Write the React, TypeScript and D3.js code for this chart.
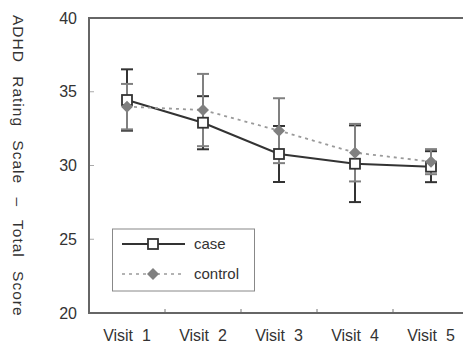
import React from "react";
import * as d3 from "d3";

const visits = ["Visit 1", "Visit 2", "Visit 3", "Visit 4", "Visit 5"];
const caseMean = [34.44, 32.9, 30.78, 30.12, 29.92];
const caseErr = [2.08, 1.8, 1.9, 2.6, 1.05];
const controlMean = [33.99, 33.76, 32.36, 30.87, 30.26];
const controlErr = [1.54, 2.45, 2.2, 1.95, 0.85];
const yTicks = [20, 25, 30, 35, 40];
const yTitle = "ADHD Rating Scale \u2013 Total Score";
const legendLabels = ["case", "control"];

const W = 463;
const H = 345;
const FONT = "'Liberation Sans', Arial, sans-serif";

export default function App() {
  const left = 89;
  const top = 18;
  const bottom = 313;
  const x = d3.scaleBand<string>().domain(visits).range([left, 469]).padding(0);
  const y = d3.scaleLinear().domain([20, 40]).range([bottom, top]);
  const cx = (v: string) => (x(v) as number) + x.bandwidth() / 2;

  const lineGen = d3
    .line<number>()
    .x((_, i) => cx(visits[i]))
    .y((d) => y(d));

  const cap = 6;
  const caseColor = "#333";
  const ctrlColor = "#808080";
  const ctrlLine = "#9a9a9a";
  const axisColor = "#666";

  const errBars = (means: number[], errs: number[], color: string) =>
    means.map((m, i) => {
      const px = cx(visits[i]);
      const y1 = y(m + errs[i]);
      const y2 = y(m - errs[i]);
      return (
        <g key={i} stroke={color} strokeWidth={2}>
          <line x1={px} x2={px} y1={y1} y2={y2} />
          <line x1={px - cap} x2={px + cap} y1={y1} y2={y1} />
          <line x1={px - cap} x2={px + cap} y1={y2} y2={y2} />
        </g>
      );
    });

  const diamond = (px: number, py: number, key?: any) => (
    <path
      key={key}
      d={`M${px},${py - 6}L${px + 6},${py}L${px},${py + 6}L${px - 6},${py}Z`}
      fill={ctrlColor}
      stroke="none"
    />
  );
  const square = (px: number, py: number, key?: any) => (
    <rect
      key={key}
      x={px - 5}
      y={py - 5}
      width={10}
      height={10}
      fill="#fff"
      stroke={caseColor}
      strokeWidth={1.8}
    />
  );

  const boundaries = visits.slice(1).map((v) => x(v) as number);

  return (
    <svg
      width={W}
      height={H}
      style={{ position: "absolute", left: 0, top: 0, background: "#fff" }}
      fontFamily={FONT}
    >
      <rect width={W} height={H} fill="#fff" />
      {/* y axis title */}
      <text
        transform={`translate(13,15) rotate(90)`}
        textAnchor="start"
        fontSize={15.5}
        fill="#333"
        letterSpacing={1}
        wordSpacing={8}
      >
        {yTitle}
      </text>
      {/* y tick labels */}
      {yTicks.map((t) => (
        <text
          key={t}
          x={77}
          y={y(t)}
          dy="0.35em"
          textAnchor="end"
          fontSize={16}
          fill="#333"
        >
          {t}
        </text>
      ))}
      {/* y ticks inward */}
      {yTicks.slice(1, -1).map((t) => (
        <line key={t} x1={left} x2={left + 5} y1={y(t)} y2={y(t)} stroke="#aaa" strokeWidth={1} />
      ))}
      {/* x ticks */}
      {boundaries.map((b, i) => (
        <line key={i} x1={b} x2={b} y1={bottom} y2={bottom - 4} stroke="#777" strokeWidth={1} />
      ))}
      {/* frame */}
      <line x1={left} x2={W} y1={top} y2={top} stroke={axisColor} strokeWidth={2} />
      <line x1={left} x2={W} y1={bottom} y2={bottom} stroke={axisColor} strokeWidth={2} />
      <line x1={left} x2={left} y1={top - 1} y2={bottom + 1} stroke={axisColor} strokeWidth={2} />
      {/* x labels */}
      {visits.map((v) => (
        <text key={v} x={cx(v)} y={341} textAnchor="middle" fontSize={16} fill="#333" style={{ whiteSpace: "pre" }}>
          {v.replace(" ", "\u00a0 ")}
        </text>
      ))}
      {/* case */}
      {errBars(caseMean, caseErr, caseColor)}
      <path d={lineGen(caseMean) || ""} fill="none" stroke={caseColor} strokeWidth={2} />
      {/* control */}
      {errBars(controlMean, controlErr, ctrlColor)}
      <path
        d={lineGen(controlMean) || ""}
        fill="none"
        stroke={ctrlLine}
        strokeWidth={1.8}
        strokeDasharray="3,4"
      />
      {caseMean.map((m, i) => square(cx(visits[i]), y(m), "s" + i))}
      {controlMean.map((m, i) => diamond(cx(visits[i]), y(m), "d" + i))}
      {/* legend */}
      <rect x={112.5} y={229} width={142} height={62} fill="#fff" stroke="#888" strokeWidth={1} />
      <line x1={122} x2={185} y1={244} y2={244} stroke={caseColor} strokeWidth={2} />
      {square(153, 244)}
      <text x={194} y={244} dy="0.35em" fontSize={15} fill="#333">
        {legendLabels[0]}
      </text>
      <line x1={122} x2={185} y1={274} y2={274} stroke={ctrlLine} strokeWidth={1.5} strokeDasharray="3,4" />
      {diamond(153, 274)}
      <text x={194} y={274} dy="0.35em" fontSize={15} fill="#333">
        {legendLabels[1]}
      </text>
    </svg>
  );
}
